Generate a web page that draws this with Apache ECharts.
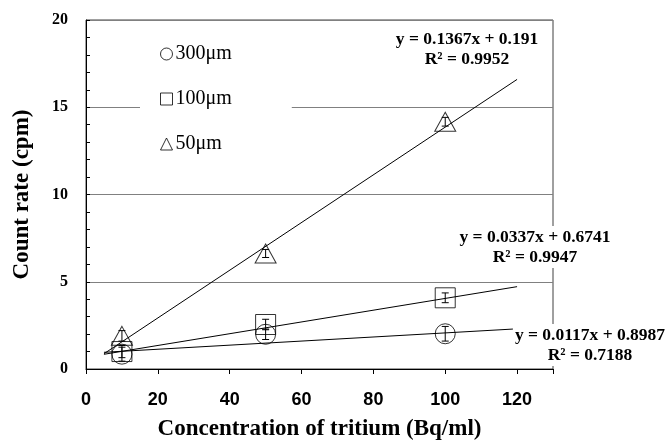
<!DOCTYPE html>
<html><head><meta charset="utf-8">
<script src="https://cdn.jsdelivr.net/npm/echarts@6/dist/echarts.min.js"></script>
<style>html,body{margin:0;padding:0;background:#fff}#c{width:667px;height:446px}</style>
</head><body><div id="c"></div>
<script>
// ---- data ----
const xValues = [10, 50, 100];
const series300 = [0.85, 1.99, 2.02];
const err300 = [0.4, 0.3, 0.42];
const series100 = [1.0, 2.55, 4.08];
const err100 = [0.35, 0.3, 0.28];
const series50 = [1.9, 6.62, 14.17];
const err50 = [0.3, 0.23, 0.25];
const trendX = [5, 120];
const trend300 = [0.957, 2.303];
const trend100 = [0.843, 4.718];
const trend50 = [0.875, 16.595];
const names = ['300μm', '100μm', '50μm'];
const equations = [
  'y = 0.1367x + 0.191\nR² = 0.9952',
  'y = 0.0337x + 0.6741\nR² = 0.9947',
  'y = 0.0117x + 0.8987\nR² = 0.7188'
];

const SERIF = '"Liberation Serif", "Times New Roman", serif';
const pts = (xs, ys) => xs.map((x, i) => [x, ys[i]]);
const errs = (xs, ys, es) => xs.map((x, i) => [x, ys[i] - es[i], ys[i] + es[i]]);

const markerStyle = { color: 'rgba(0,0,0,0)', borderColor: '#000', borderWidth: 1 };

function errorBar(params, api) {
  const x = api.value(0), lo = api.coord([x, api.value(1)]), hi = api.coord([x, api.value(2)]);
  const w = 3.5, st = { stroke: '#000', lineWidth: 1 };
  return { type: 'group', children: [
    { type: 'line', shape: { x1: lo[0], y1: lo[1], x2: hi[0], y2: hi[1] }, style: st },
    { type: 'line', shape: { x1: lo[0] - w, y1: lo[1], x2: lo[0] + w, y2: lo[1] }, style: st },
    { type: 'line', shape: { x1: hi[0] - w, y1: hi[1], x2: hi[0] + w, y2: hi[1] }, style: st }
  ]};
}
function scatter(name, data, symbol, size) {
  return { name, type: 'scatter', data, symbol, symbolSize: size, itemStyle: markerStyle, z: 3 };
}
function trend(data) {
  return { type: 'line', data, symbol: 'none', lineStyle: { color: '#000', width: 1 }, z: 2, silent: true };
}
function ebar(data) {
  return { type: 'custom', renderItem: errorBar, data, encode: { x: 0, y: [1, 2] }, z: 4, silent: true };
}

const chart = echarts.init(document.getElementById('c'), null, { renderer: 'canvas' });
chart.setOption({
  animation: false,
  backgroundColor: '#fff',
  grid: { left: 86, right: 114, top: 20, bottom: 74, show: true, borderColor: '#404040', borderWidth: 1 },
  legend: {
    orient: 'vertical', left: 140, top: 30,
    padding: [14, 60, 15, 20], itemGap: 25,
    backgroundColor: '#fff',
    itemWidth: 12, itemHeight: 12,
    data: [
      { name: names[0], icon: 'circle' },
      { name: names[1], icon: 'rect' },
      { name: names[2], icon: 'triangle' }
    ],
    itemStyle: markerStyle,
    textStyle: { fontFamily: SERIF, fontSize: 20, color: '#000', padding: [0, 0, 0, -2] }
  },
  xAxis: {
    type: 'value', min: 0, max: 130, interval: 20,
    name: 'Concentration of tritium (Bq/ml)', nameLocation: 'middle', nameGap: 49,
    nameTextStyle: { fontFamily: SERIF, fontWeight: 'bold', fontSize: 23, color: '#000' },
    axisLine: { show: true, lineStyle: { color: '#000', width: 1 } },
    axisTick: { show: true, inside: false, length: 5, lineStyle: { color: '#000' } },
    axisLabel: { margin: 22, fontFamily: '"Liberation Sans", Arial, sans-serif', fontWeight: 'bold', fontSize: 18, color: '#000',
      formatter: v => (v % 20 === 0 ? String(v) : '') },
    splitLine: { show: false }
  },
  yAxis: {
    type: 'value', min: 0, max: 20, interval: 5,
    name: 'Count rate (cpm)', nameLocation: 'middle', nameGap: 52, nameRotate: 90,
    nameTextStyle: { fontFamily: SERIF, fontWeight: 'bold', fontSize: 23, color: '#000' },
    axisLine: { show: true, lineStyle: { color: '#000', width: 1 } },
    axisTick: { show: true, inside: true, length: 4, lineStyle: { color: '#000' } },
    minorTick: { show: true, splitNumber: 5, length: 4, lineStyle: { color: '#000' } },
    axisLabel: { margin: 18, fontFamily: SERIF, fontWeight: 'bold', fontSize: 16, color: '#000' },
    splitLine: { show: true, lineStyle: { color: '#808080', width: 1 } }
  },
  series: [
    trend(pts(trendX, trend300)),
    trend(pts(trendX, trend100)),
    trend(pts(trendX, trend50)),
    scatter(names[0], pts(xValues, series300), 'circle', 20),
    scatter(names[1], pts(xValues, series100), 'rect', 20),
    scatter(names[2], pts(xValues, series50), 'triangle', [21, 19]),
    ebar(errs(xValues, series300, err300)),
    ebar(errs(xValues, series100, err100)),
    ebar(errs(xValues, series50, err50))
  ],
  graphic: [
    { type: 'text', x: 467, y: 49, z: 100, style: { text: equations[0], font: 'bold 17.5px ' + SERIF, fill: '#000',
      align: 'center', verticalAlign: 'middle', lineHeight: 20, backgroundColor: '#fff', padding: [1, 2] } },
    { type: 'text', x: 535, y: 247, z: 100, style: { text: equations[1], font: 'bold 17.5px ' + SERIF, fill: '#000',
      align: 'center', verticalAlign: 'middle', lineHeight: 20, backgroundColor: '#fff', padding: [1, 2] } },
    { type: 'text', x: 590, y: 345, z: 100, style: { text: equations[2], font: 'bold 17.5px ' + SERIF, fill: '#000',
      align: 'center', verticalAlign: 'middle', lineHeight: 20, backgroundColor: '#fff', padding: [1, 2] } }
  ]
});
</script></body></html>
